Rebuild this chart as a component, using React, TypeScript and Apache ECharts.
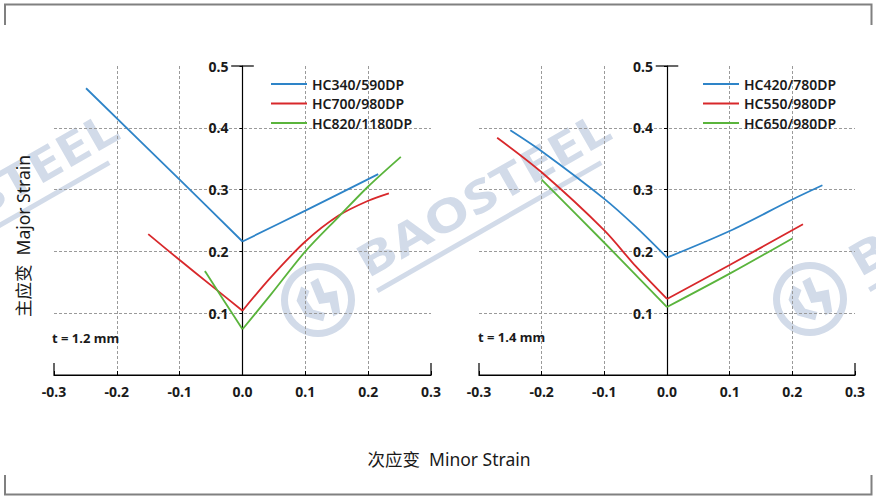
import React, { useEffect, useRef } from "react";
import * as echarts from "echarts";

// Forming limit curves, t = 1.2 mm panel: [minor strain, major strain]
const namesThin = ["HC340/590DP", "HC700/980DP", "HC820/1180DP"];
const hc340_590 = [[-0.249, 0.464], [-0.1, 0.316], [0, 0.216], [0.1, 0.266], [0.216, 0.325]];
const hc700_980 = [[-0.15, 0.228], [-0.1, 0.186], [-0.05, 0.145], [0, 0.104], [0.045, 0.158], [0.1, 0.216], [0.153, 0.258], [0.2, 0.282], [0.233, 0.294]];
const hc820_1180 = [[-0.06, 0.168], [-0.057, 0.164], [-0.03, 0.121], [0, 0.074], [0.045, 0.13], [0.1, 0.2], [0.153, 0.256], [0.2, 0.305], [0.252, 0.353]];

// t = 1.4 mm panel
const namesThick = ["HC420/780DP", "HC550/980DP", "HC650/980DP"];
const hc420_780 = [[-0.25, 0.396], [-0.2, 0.362], [-0.1, 0.285], [-0.05, 0.24], [0, 0.19], [0.1, 0.233], [0.2, 0.284], [0.248, 0.307]];
const hc550_980 = [[-0.271, 0.384], [-0.2, 0.328], [-0.1, 0.234], [-0.05, 0.176], [0, 0.123], [0.1, 0.178], [0.217, 0.244]];
const hc650_980 = [[-0.2, 0.316], [-0.1, 0.214], [0, 0.11], [0.1, 0.164], [0.2, 0.221]];

const thicknessLabels = ["t = 1.2 mm", "t = 1.4 mm"];
const xRange = [-0.3, 0.3];
const yRange = [0, 0.5];
const tickStep = 0.1;

// axis end caps (drawn in data units)
const xCaps = [[-0.3, 0.0195], [-0.3, 0], [0.3, 0], [0.3, 0.0195]];
const yCap = [[-0.018, 0.5], [0.018, 0.5]];

const COLORS = ["#2e84c8", "#d8282b", "#5ab43c"];
const FONT = "'Noto Sans', 'Noto Sans CJK SC', sans-serif";
const INK = "#1a1a1a";
const WM = "#d2dbe9";

const GRIDS = [
  { left: 54, top: 66, width: 377, height: 309 },
  { left: 479, top: 66, width: 376, height: 309 },
];

function watermark(cx: number, cy: number) {
  return {
    type: "group",
    x: cx,
    y: cy,
    rotation: 0.52,
    z: -10,
    silent: true,
    children: [
      { type: "ring", shape: { cx: 0, cy: 0, r: 37, r0: 30 }, style: { fill: WM } },
      {
        type: "polygon",
        shape: { points: [[-19, -10], [-8, -20], [-3, -12], [-10, -6], [-9, 6], [0, 15], [-6, 21], [-19, 8]] },
        style: { fill: WM },
      },
      {
        type: "polygon",
        shape: { points: [[2, -19], [11, -19], [9, -3], [21, 1], [13, 22], [5, 22], [9, 8], [-1, 4]] },
        style: { fill: WM },
      },
      {
        type: "text",
        x: 54,
        y: -11,
        scaleX: 1.28,
        style: { text: "BAOSTEEL", fontSize: 45, fontWeight: "bold", fontFamily: FONT, fill: WM, verticalAlign: "middle", align: "left" },
      },
      { type: "rect", shape: { x: 56, y: 19, width: 258, height: 5 }, style: { fill: WM } },
    ],
  };
}

function makeAxes(gridIndex: number) {
  const g = GRIDS[gridIndex];
  // the vertical axis sits at minor strain = 0, i.e. the grid's horizontal centre
  const zeroOffset = -(g.width * (0 - xRange[0])) / (xRange[1] - xRange[0]);
  const x = {
    type: "value",
    gridIndex,
    min: xRange[0],
    max: xRange[1],
    interval: tickStep,
    axisLine: { show: true, onZero: false, lineStyle: { color: "#000", width: 1.2 } },
    axisTick: { show: true, inside: true, length: 4, lineStyle: { color: "#000" } },
    axisLabel: {
      margin: 9,
      fontSize: 14,
      fontWeight: "bold",
      fontFamily: FONT,
      color: INK,
      formatter: (v: number) => v.toFixed(1),
    },
    splitLine: { show: true, showMinLine: false, showMaxLine: false, lineStyle: { color: "#9a9a9a", type: [3, 2], width: 1 } },
  };
  const y = {
    type: "value",
    gridIndex,
    position: "left",
    offset: zeroOffset,
    min: yRange[0],
    max: yRange[1],
    interval: tickStep,
    axisLine: { show: true, onZero: false, lineStyle: { color: "#000", width: 1.2 } },
    axisTick: { show: true, length: 3, lineStyle: { color: "#000" } },
    axisLabel: {
      margin: 14,
      fontSize: 14,
      fontWeight: "bold",
      fontFamily: FONT,
      color: INK,
      formatter: (v: number) => (v === 0 ? "" : v.toFixed(1)),
    },
    splitLine: { show: true, showMinLine: false, showMaxLine: false, lineStyle: { color: "#9a9a9a", type: [3, 2], width: 1 } },
  };
  return { x, y };
}

// each curve is drawn as two smoothed branches meeting at the plane-strain point
function curve(name: string, data: number[][], idx: number, color: string) {
  const base = {
    type: "line",
    name,
    xAxisIndex: idx,
    yAxisIndex: idx,
    showSymbol: false,
    symbol: "none",
    smooth: 0.3,
    lineStyle: { color, width: 1.8 },
    itemStyle: { color },
    z: 3,
  };
  return [
    { ...base, data: data.filter((p) => p[0] <= 0) },
    { ...base, data: data.filter((p) => p[0] >= 0) },
  ];
}

function caps(idx: number) {
  const base = {
    type: "line",
    xAxisIndex: idx,
    yAxisIndex: idx,
    symbol: "none",
    silent: true,
    clip: false,
    lineStyle: { color: "#000", width: 1.2 },
    z: 4,
  };
  return [
    { ...base, name: "_xcap" + idx, data: xCaps },
    { ...base, name: "_ycap" + idx, data: yCap },
  ];
}

function legend(names: string[], left: number) {
  return {
    data: names,
    orient: "vertical",
    left,
    top: 76,
    padding: 0,
    itemGap: 3.5,
    itemWidth: 36,
    itemHeight: 2,
    icon: "rect",
    selectedMode: false,
    textStyle: { fontSize: 14, fontWeight: 600, fontFamily: FONT, color: INK, lineHeight: 16 },
  };
}

export default function App() {
  const ref = useRef<HTMLDivElement>(null);

  useEffect(() => {
    if (!ref.current) return;
    const chart = echarts.init(ref.current, undefined, { renderer: "svg" });
    const a0 = makeAxes(0);
    const a1 = makeAxes(1);

    chart.setOption({
      animation: false,
      backgroundColor: "#ffffff",
      grid: GRIDS,
      xAxis: [a0.x, a1.x],
      yAxis: [a0.y, a1.y],
      legend: [legend(namesThin, 271), legend(namesThick, 703)],
      series: [
        ...curve(namesThin[0], hc340_590, 0, COLORS[0]),
        ...curve(namesThin[1], hc700_980, 0, COLORS[1]),
        ...curve(namesThin[2], hc820_1180, 0, COLORS[2]),
        ...curve(namesThick[0], hc420_780, 1, COLORS[0]),
        ...curve(namesThick[1], hc550_980, 1, COLORS[1]),
        ...curve(namesThick[2], hc650_980, 1, COLORS[2]),
        ...caps(0),
        ...caps(1),
      ],
      graphic: [
        watermark(-174, 300),
        watermark(318, 300),
        watermark(810, 299),
        {
          type: "polyline",
          z: 10,
          shape: { points: [[5, 25], [5, 4.5], [871.5, 4.5], [871.5, 25]] },
          style: { stroke: "#808080", lineWidth: 2, fill: null },
        },
        {
          type: "polyline",
          z: 10,
          shape: { points: [[5, 475], [5, 494.5], [871.5, 494.5], [871.5, 475]] },
          style: { stroke: "#808080", lineWidth: 2, fill: null },
        },
        {
          type: "text",
          x: 23,
          y: 236,
          rotation: Math.PI / 2,
          z: 10,
          style: { text: "主应变  Major Strain", fontSize: 17.5, fontFamily: FONT, fill: INK, align: "center", verticalAlign: "middle" },
        },
        {
          type: "text",
          x: 449,
          y: 459,
          z: 10,
          style: { text: "次应变  Minor Strain", fontSize: 17.5, fontFamily: FONT, fill: INK, align: "center", verticalAlign: "middle" },
        },
        {
          type: "text",
          x: 52,
          y: 338,
          z: 10,
          style: { text: thicknessLabels[0], fontSize: 13, fontWeight: "bold", fontFamily: FONT, fill: INK, verticalAlign: "middle" },
        },
        {
          type: "text",
          x: 478,
          y: 337,
          z: 10,
          style: { text: thicknessLabels[1], fontSize: 13, fontWeight: "bold", fontFamily: FONT, fill: INK, verticalAlign: "middle" },
        },
      ],
    });

    return () => chart.dispose();
  }, []);

  return (
    <div
      ref={ref}
      style={{ position: "fixed", left: 0, top: 0, width: 876, height: 496, background: "#fff" }}
    />
  );
}
